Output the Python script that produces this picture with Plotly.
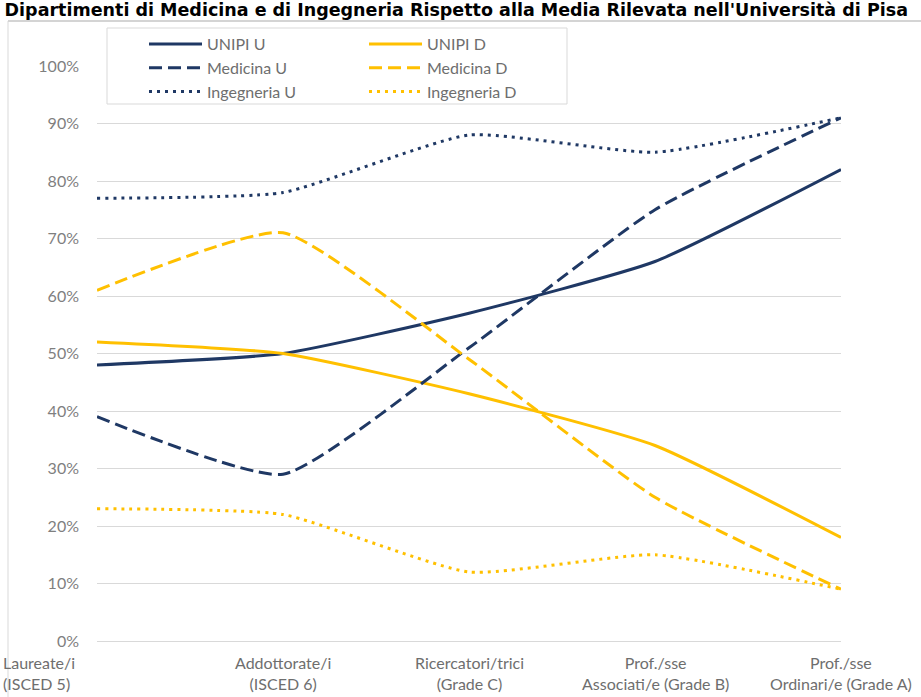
import plotly.graph_objects as go

# ---- data ----
categories = [
    "Laureate/i<br>(ISCED 5)",
    "Addottorate/i<br>(ISCED 6)",
    "Ricercatori/trici<br>(Grade C)",
    "Prof./sse<br>Associati/e (Grade B)",
    "Prof./sse<br>Ordinari/e (Grade A)",
]
unipi_u = [0.48, 0.50, 0.57, 0.66, 0.82]
unipi_d = [0.52, 0.50, 0.43, 0.34, 0.18]
medicina_u = [0.39, 0.29, 0.51, 0.75, 0.91]
medicina_d = [0.61, 0.71, 0.49, 0.25, 0.09]
ingegneria_u = [0.77, 0.78, 0.88, 0.85, 0.91]
ingegneria_d = [0.23, 0.22, 0.12, 0.15, 0.09]
y_ticks = [0, 0.1, 0.2, 0.3, 0.4, 0.5, 0.6, 0.7, 0.8, 0.9, 1.0]

title_text = ("Dipartimenti di Medicina e di Ingegneria Rispetto alla Media "
              "Rilevata nell'Università di Pisa")

NAVY = "#1F3864"
GOLD = "#FFC000"
FONT = "Lato"
TXT = "#6E6E6E"

x_idx = list(range(len(categories)))

series = [
    ("UNIPI U", unipi_u, NAVY, "solid", "U"),
    ("UNIPI D", unipi_d, GOLD, "solid", "D"),
    ("Medicina U", medicina_u, NAVY, "13px,6px", "U"),
    ("Medicina D", medicina_d, GOLD, "13px,6px", "D"),
    ("Ingegneria U", ingegneria_u, NAVY, "3px,5px", "U"),
    ("Ingegneria D", ingegneria_d, GOLD, "3px,5px", "D"),
]

fig = go.Figure()
for name, vals, col, dash, grp in series:
    fig.add_trace(go.Scatter(
        x=x_idx, y=vals, name=name, mode="lines",
        line=dict(color=col, width=3, dash=dash, shape="spline", smoothing=0.5),
        legendgroup=grp, hoverinfo="skip",
    ))

W, H = 921, 697
L, R, T, B = 97, 80, 66, 56
pw, ph = W - L - R, H - T - B


def px_x(px):
    return (px - L) / pw


def px_y(py):
    return (H - B - py) / ph


shapes = [
    # chart frame
    dict(type="line", xref="paper", yref="paper", x0=px_x(8), x1=px_x(8),
         y0=px_y(21), y1=px_y(720), line=dict(color="#D9D9D9", width=1)),
    dict(type="line", xref="paper", yref="paper", x0=px_x(8), x1=px_x(940),
         y0=px_y(21), y1=px_y(21), line=dict(color="#D4D4D4", width=2)),
    # legend box
    dict(type="rect", xref="paper", yref="paper", x0=px_x(107), x1=px_x(567),
         y0=px_y(104), y1=px_y(28), line=dict(color="#D9D9D9", width=1),
         fillcolor="white", layer="above"),
]

# category labels placed on the x scale (first one pushed to the left edge as in the source)
annotations = []
for i, lab in enumerate(categories):
    first = i == 0
    annotations.append(dict(
        x=x_idx[i], xref="x", y=0, yref="paper",
        text=lab, showarrow=False,
        xanchor="left" if first else "center", yanchor="top",
        xshift=-96 if first else 0, yshift=-10,
        align="left" if first else "center",
        font=dict(family=FONT, size=16, color=TXT),
    ))

fig.update_layout(
    width=W, height=H,
    margin=dict(l=L, r=R, t=T, b=B, pad=0),
    paper_bgcolor="white", plot_bgcolor="white",
    font=dict(family=FONT, size=16, color=TXT),
    title=dict(text="<b>" + title_text + "</b>", x=0.005, xanchor="left",
               xref="container", yref="container", y=1 - 3.5 / H, yanchor="top",
               pad=dict(t=0, b=0, l=0, r=0),
               font=dict(family="DejaVu Sans", size=17.5, color="#000000")),
    showlegend=True,
    legend=dict(orientation="h", traceorder="grouped", tracegroupgap=0,
                x=px_x(144), y=px_y(27), xanchor="left", yanchor="top",
                bgcolor="rgba(0,0,0,0)", borderwidth=0,
                itemwidth=53, entrywidth=152,
                font=dict(family=FONT, size=16, color=TXT)),
    xaxis=dict(range=[0, 4], tickvals=x_idx, showticklabels=False,
               showgrid=False, zeroline=False, showline=False, ticks="",
               fixedrange=True),
    yaxis=dict(range=[0, 1], tickvals=y_ticks, tickformat=".0%",
               showgrid=True, gridcolor="#D9D9D9", gridwidth=1,
               zeroline=True, zerolinecolor="#D9D9D9", zerolinewidth=1,
               showline=False, ticks="", ticklabelstandoff=17,
               tickfont=dict(family=FONT, size=16, color="#7F7F7F"),
               fixedrange=True),
    shapes=shapes,
    annotations=annotations,
)

fig.write_html(
    "out.html",
    config={"displayModeBar": False},
    post_script="document.body.style.margin='0';document.body.style.overflow='hidden';",
)
